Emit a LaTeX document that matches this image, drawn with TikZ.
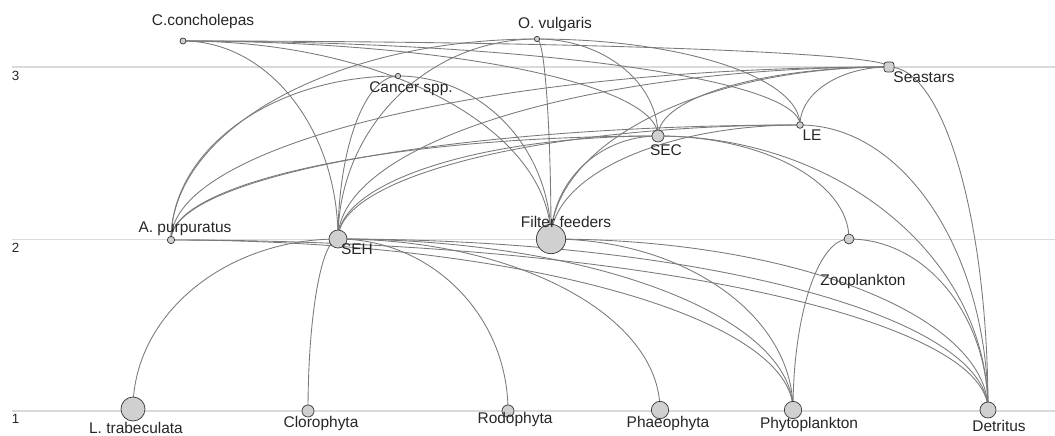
\documentclass[tikz,border=0pt]{standalone}
\usepackage{fontspec}
\setmainfont{Liberation Sans}
\usetikzlibrary{calc}
\pgfdeclarelayer{grid}
\pgfdeclarelayer{links}
\pgfsetlayers{grid,links,main}
\definecolor{edgegray}{HTML}{7A7A7A}
\definecolor{nodefill}{HTML}{D0D0D0}
\definecolor{nodeline}{HTML}{3C3C3C}
\definecolor{levelgray}{HTML}{DADADA}
\tikzset{
  sp/.style={circle,draw=nodeline,fill=nodefill,line width=0.55pt,inner sep=0pt,minimum size=#1},
  lbl/.style={font=\fontsize{11.6}{13}\selectfont,inner sep=0pt,anchor=base,text=black!85},
  lvl/.style={font=\fontsize{10}{12}\selectfont,inner sep=0pt,anchor=base,text=black!85},
  fwedge/.style={draw=edgegray,line width=0.65pt},
  levelline/.style={draw=levelgray,line width=0.8pt}
}
\newcommand\fw[2]{\draw[fwedge] let \p1=(#1.center), \p2=(#2.center) in (\p1) .. controls (\x1,{\y1+0.5523*(\y2-\y1)}) and ({\x2+0.5523*(\x1-\x2)},\y2) .. (\p2);}
\begin{document}
\begin{tikzpicture}[x=0.75pt,y=-0.75pt]
\useasboundingbox (0,0) rectangle (1055,435);
% level lines
\begin{pgfonlayer}{grid}
\coordinate (l3a) at (12,67); \coordinate (l3b) at (1055,67);
\coordinate (l2a) at (12,239.5); \coordinate (l2b) at (1055,239.5);
\coordinate (l1a) at (12,411); \coordinate (l1b) at (1055,411);
\draw[levelline] (l3a) -- (l3b);
\draw[levelline] (l2a) -- (l2b);
\draw[levelline] (l1a) -- (l1b);
\end{pgfonlayer}
\node[lvl] (n3) at (15.5,80) {3};
\node[lvl] (n2) at (15.5,252) {2};
\node[lvl] (n1) at (15.5,423) {1};
% species
\node[sp=4.5pt] (CC) at (183,41) {};
\node[sp=4pt] (OV) at (537,39) {};
\node[sp=4pt] (CA) at (398,76) {};
\node[rectangle,rounded corners=2pt,draw=nodeline,fill=nodefill,line width=0.55pt,inner sep=0pt,minimum width=7.5pt,minimum height=7.5pt] (SS) at (889,67) {};
\node[sp=5pt] (LE) at (800,125) {};
\node[sp=9pt] (SEC) at (658,136) {};
\node[sp=5.5pt] (AP) at (171,240) {};
\node[sp=13.5pt] (SEH) at (338,239) {};
\node[sp=22pt] (FF) at (551,239) {};
\node[sp=7.5pt] (ZO) at (849,239) {};
\node[sp=18pt] (LT) at (133,409) {};
\node[sp=9pt] (CL) at (308,411) {};
\node[sp=9pt] (RO) at (508,411) {};
\node[sp=13pt] (PH) at (660,410) {};
\node[sp=13pt] (PP) at (793,410) {};
\node[sp=12pt] (DE) at (988,410) {};
% labels
\node[lbl] (tCC) at (203,26) {C.concholepas};
\node[lbl] (tOV) at (555,28.5) {O. vulgaris};
\node[lbl] (tCA) at (411,93) {Cancer spp.};
\node[lbl] (tSS) at (924,82) {Seastars};
\node[lbl] (tLE) at (812,140) {LE};
\node[lbl] (tSEC) at (666,155) {SEC};
\node[lbl] (tAP) at (185,232) {A. purpuratus};
\node[lbl] (tSEH) at (357,254) {SEH};
\node[lbl] (tFF) at (566,227) {Filter feeders};
\node[lbl] (tZO) at (863,285) {Zooplankton};
\node[lbl] (tLT) at (136,433) {L. trabeculata};
\node[lbl] (tCL) at (321,427) {Clorophyta};
\node[lbl] (tRO) at (515,423) {Rodophyta};
\node[lbl] (tPH) at (668,427) {Phaeophyta};
\node[lbl] (tPP) at (809,428) {Phytoplankton};
\node[lbl] (tDE) at (999,431) {Detritus};
% trophic links: \fw{lower}{upper}
\begin{pgfonlayer}{links}
\fw{LT}{SEH} \fw{CL}{SEH} \fw{RO}{SEH} \fw{PH}{SEH}
\fw{PP}{AP} \fw{PP}{SEH} \fw{PP}{FF} \fw{PP}{ZO}
\fw{DE}{AP} \fw{DE}{SEH} \fw{DE}{FF} \fw{DE}{ZO} \fw{DE}{SEC} \fw{DE}{LE} \fw{DE}{SS}
\fw{AP}{CA} \fw{AP}{OV} \fw{AP}{SS} \fw{AP}{LE} \fw{AP}{SEC}
\fw{SEH}{CC} \fw{SEH}{CA} \fw{SEH}{OV} \fw{SEH}{SEC} \fw{SEH}{LE} \fw{SEH}{SS}
\fw{FF}{CC} \fw{FF}{CA} \fw{FF}{OV} \fw{FF}{SEC} \fw{FF}{LE} \fw{FF}{SS}
\fw{ZO}{SEC}
\fw{SEC}{CC} \fw{SEC}{OV} \fw{SEC}{SS}
\fw{LE}{CC} \fw{LE}{OV} \fw{LE}{SS}
\fw{SS}{CC}
\end{pgfonlayer}
\end{tikzpicture}
\end{document}
